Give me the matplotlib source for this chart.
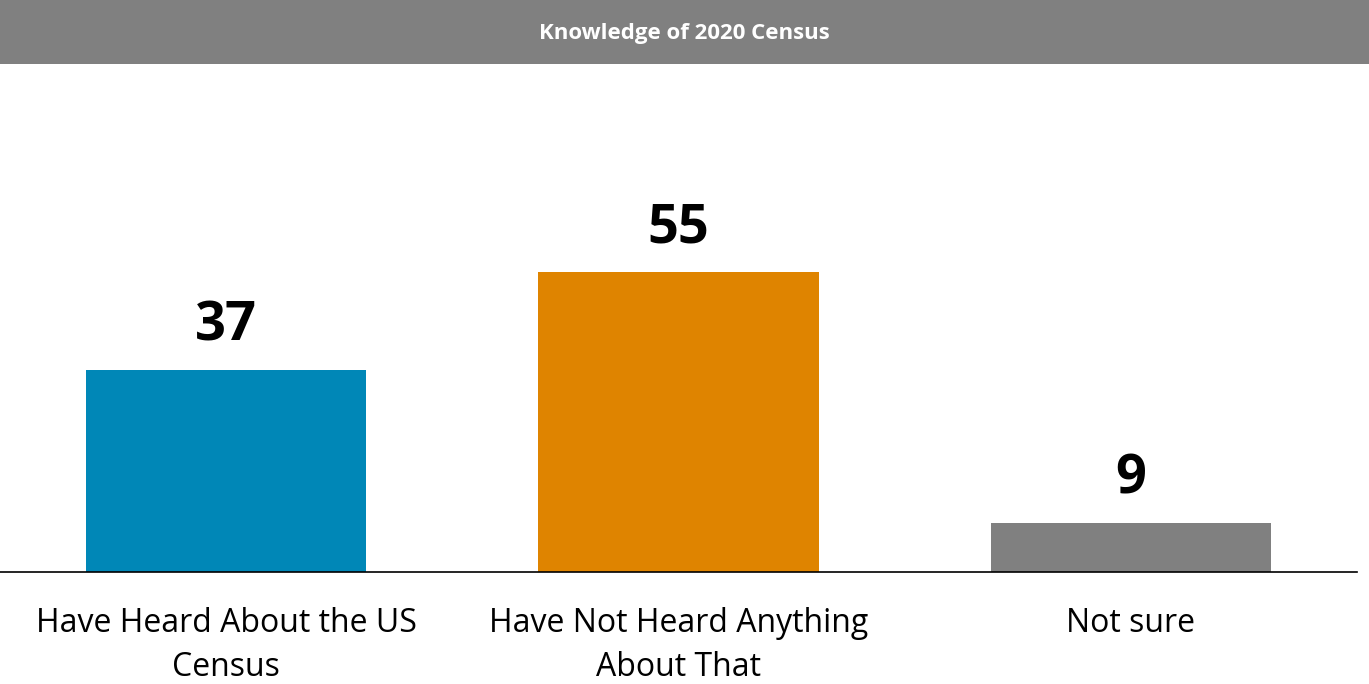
import matplotlib.pyplot as plt
from matplotlib.patches import Rectangle

categories = ["Have Heard About the US\nCensus", "Have Not Heard Anything\nAbout That", "Not sure"]
values = [37, 55, 9]
colors = ["#0087B7", "#DF8400", "#808080"]

plt.rcParams['font.family'] = ['Open Sans', 'DejaVu Sans']

fig = plt.figure(figsize=(13.69, 6.84), dpi=100)

# grey header band with title
fig.patches.append(Rectangle((0, 1 - 64 / 684), 1, 64 / 684, transform=fig.transFigure,
                             facecolor="#808080", edgecolor="none", zorder=0))
fig.text(0.5, 1 - 34 / 684, "Knowledge of 2020 Census", ha='center', va='center',
         color='white', fontsize=16, fontweight='bold')

ax = fig.add_axes([0, 112 / 684, 1357 / 1369, 502 / 684])
x = range(len(values))
bars = ax.bar(x, values, width=0.62, color=colors)
ax.set_xlim(-0.5, 2.5)
ax.set_ylim(0, 92)

for rect, v in zip(bars, values):
    ax.annotate(str(v), (rect.get_x() + rect.get_width() / 2, v), xytext=(0, 12),
                textcoords='offset points', ha='center', va='bottom',
                fontsize=39, fontweight='bold', color='black')

ax.set_xticks(list(x))
ax.set_xticklabels(categories, fontsize=23, linespacing=1.45)
ax.tick_params(axis='x', length=0, pad=25)
ax.set_yticks([])
for s in ['top', 'right', 'left']:
    ax.spines[s].set_visible(False)
ax.spines['bottom'].set_linewidth(1.2)

fig.savefig("out.png", dpi=100)
